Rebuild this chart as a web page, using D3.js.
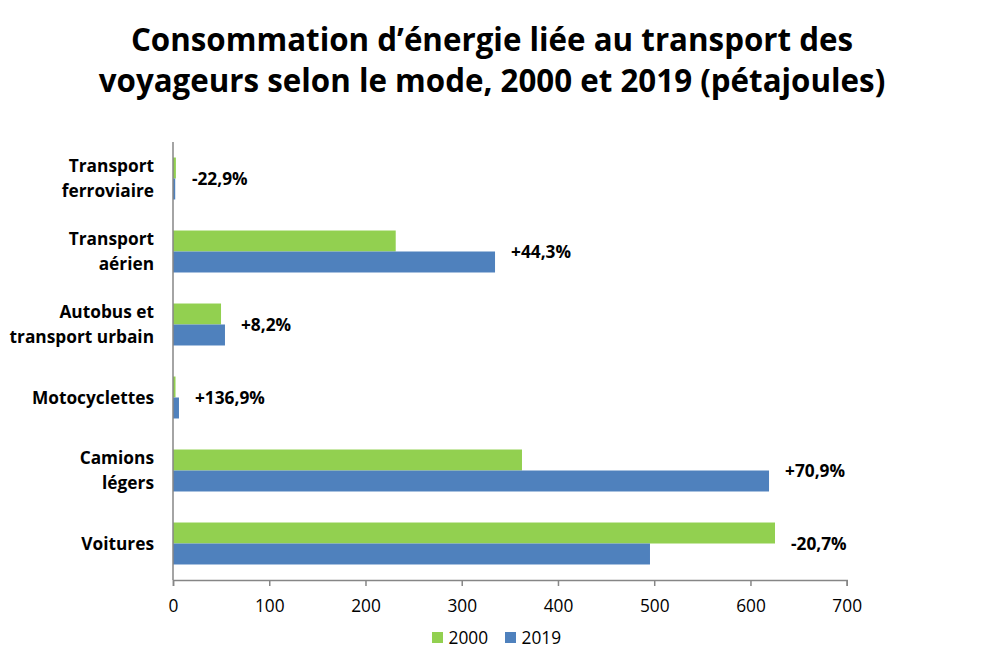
<!DOCTYPE html>
<html>
<head>
<meta charset="utf-8">
<script src="https://cdn.jsdelivr.net/npm/d3@7"></script>
<style>
  body { margin: 0; background: #fff; }
  svg { display: block; font-family: "Open Sans", "Noto Sans", sans-serif; }
</style>
</head>
<body>
<div id="chart"></div>
<script>
'use strict';

// data (pétajoules)
var categories = [
	["Transport", "ferroviaire"],
	["Transport", "aérien"],
	["Autobus et", "transport urbain"],
	["Motocyclettes"],
	["Camions", "légers"],
	["Voitures"]
];
var values2000 = [3.0, 231.4, 49.9, 2.6, 362.6, 625.5];
var values2019 = [2.3, 334.6, 54.0, 6.2, 619.3, 495.6];
var changeLabels = ["-22,9%", "+44,3%", "+8,2%", "+136,9%", "+70,9%", "-20,7%"];
var xTicks = [0, 100, 200, 300, 400, 500, 600, 700];
var seriesNames = ["2000", "2019"];
var seriesColors = ["#92d050", "#4f81bd"];
var titleLines = [
	"Consommation d’énergie liée au transport des",
	"voyageurs selon le mode, 2000 et 2019 (pétajoules)"
];

var width = 985, height = 656;
var plot = { left: 173, right: 846.7, top: 142, bottom: 580 };
var labelSize = 17.3;

var svg = d3.select("#chart").append("svg")
	.attr("width", width)
	.attr("height", height);

svg.append("text")
	.attr("x", 492)
	.attr("y", 50.5)
	.attr("text-anchor", "middle")
	.attr("font-size", 31.3)
	.attr("font-weight", "bold")
	.attr("fill", "#000")
	.selectAll("tspan")
	.data(titleLines)
	.join("tspan")
	.attr("x", 492)
	.attr("dy", function(d, i) { return i === 0 ? 0 : 41.5; })
	.text(function(d) { return d; });

var x = d3.scaleLinear()
	.domain([0, 700])
	.range([plot.left, plot.right]);

var idx = d3.range(categories.length);

var y = d3.scaleBand()
	.domain(idx)
	.range([plot.top, plot.bottom])
	.paddingInner(0.425)
	.paddingOuter(0.2125);

var ySeries = d3.scaleBand()
	.domain([0, 1])
	.range([0, y.bandwidth()]);

var rows = svg.append("g").selectAll("g")
	.data(idx)
	.join("g")
	.attr("transform", function(i) { return "translate(0," + y(i) + ")"; });

rows.selectAll("rect")
	.data(function(i) { return [values2000[i], values2019[i]]; })
	.join("rect")
	.attr("x", x(0))
	.attr("y", function(d, s) { return ySeries(s); })
	.attr("width", function(d) { return x(d) - x(0); })
	.attr("height", ySeries.bandwidth())
	.attr("fill", function(d, s) { return seriesColors[s]; });

// change labels, right of the longest bar
rows.append("text")
	.attr("x", function(i) { return x(Math.max(values2000[i], values2019[i])) + 16; })
	.attr("y", y.bandwidth() / 2)
	.attr("dy", "0.36em")
	.attr("font-size", labelSize)
	.attr("font-weight", "bold")
	.text(function(i) { return changeLabels[i]; });

// category labels
rows.append("text")
	.attr("text-anchor", "end")
	.attr("font-size", labelSize)
	.attr("font-weight", "bold")
	.selectAll("tspan")
	.data(function(i) {
		var lines = categories[i];
		return lines.map(function(t, k) {
			return { t: t, off: (k - (lines.length - 1) / 2) * 25 };
		});
	})
	.join("tspan")
	.attr("x", 154)
	.attr("y", function(d) { return y.bandwidth() / 2 + d.off; })
	.attr("dy", "0.36em")
	.text(function(d) { return d.t; });

// x axis
var xAxis = svg.append("g")
	.attr("transform", "translate(0," + plot.bottom + ")")
	.call(d3.axisBottom(x).tickValues(xTicks).tickSize(6).tickPadding(14).tickFormat(d3.format("d")));

xAxis.select(".domain").attr("stroke", "#868686").attr("stroke-width", 1.5);
xAxis.selectAll(".tick line").attr("stroke", "#868686").attr("stroke-width", 1.5);
xAxis.selectAll(".tick text")
	.attr("font-family", "'Open Sans', sans-serif")
	.attr("font-size", labelSize)
	.attr("fill", "#000");

// y axis line
svg.append("line")
	.attr("x1", x(0)).attr("x2", x(0))
	.attr("y1", plot.top).attr("y2", plot.bottom)
	.attr("stroke", "#868686")
	.attr("stroke-width", 1.5);

// legend
var legend = svg.append("g").selectAll("g")
	.data(seriesNames)
	.join("g")
	.attr("transform", function(d, i) { return "translate(" + (432 + i * 73) + ",632)"; });

legend.append("rect")
	.attr("width", 11)
	.attr("height", 11)
	.attr("fill", function(d, i) { return seriesColors[i]; });

legend.append("text")
	.attr("x", 16.5)
	.attr("y", 5.5)
	.attr("dy", "0.36em")
	.attr("font-size", labelSize)
	.text(function(d) { return d; });
</script>
</body>
</html>
